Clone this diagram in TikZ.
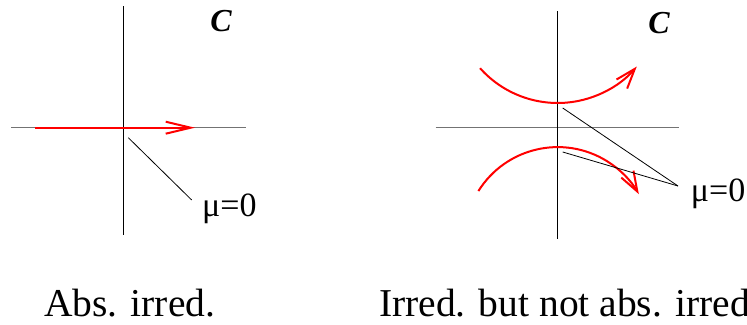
\documentclass[tikz,border=0pt]{standalone}
\usepackage{fontspec}
\setmainfont{Liberation Serif}
\usetikzlibrary{arrows.meta}
\begin{document}
\begin{tikzpicture}[x=1pt,y=-1pt,
  hax/.style={draw=black!55, line width=1.3pt},
  vax/.style={draw=black, line width=0.9pt},
  flow/.style={draw=red, line width=2pt},
  leader/.style={draw=black, line width=0.8pt},
  lbl/.style={inner sep=0pt, anchor=base west, font=\fontsize{34}{36}\selectfont},
  captext/.style={inner sep=0pt, anchor=base west, font=\fontsize{39.5}{41}\selectfont},
  cee/.style={inner sep=0pt, anchor=base, font=\fontsize{32}{34}\selectfont\bfseries\itshape}]
\path[use as bounding box] (0,0) rectangle (747,324);
\clip (0,0) rectangle (747,324);
% left panel
\coordinate (la1) at (11,127.7);
\coordinate (la2) at (245.7,127.7);
\coordinate (lv1) at (123.3,6);
\coordinate (lv2) at (123.3,235);
\draw[hax] (la1) -- (la2);
\draw[vax] (lv1) -- (lv2);
\coordinate (rs) at (35,127.7);
\coordinate (re) at (195,127.7);
\draw[flow, -{Straight Barb[length=25pt,width=12pt]}] (rs) -- (re);
\node[cee] (c1) at (221,31) {C};
\node[lbl] (mu1) at (202,216.7) {μ=0};
\coordinate (l1s) at (128.3,137.7);
\coordinate (l1e) at (191.7,200);
\draw[leader] (l1s) -- (l1e);
\node[captext] (t1) at (44,316.7) {Abs. irred.};
% right panel
\coordinate (ra1) at (435.7,127.7);
\coordinate (ra2) at (679,127.7);
\coordinate (rv1) at (557.7,11);
\coordinate (rv2) at (557.7,239);
\draw[hax] (ra1) -- (ra2);
\draw[vax] (rv1) -- (rv2);
\draw[flow, -{Straight Barb[length=20pt,width=14pt]}]
  ([shift={(138.3:104)}]557.7,-1) arc[start angle=138.3, end angle=40.5, radius=104];
\draw[flow, -{Straight Barb[length=20pt,width=14pt]}]
  ([shift={(212:93.5)}]557.7,240.6) arc[start angle=212, end angle=330.2, radius=93.5];
\node[cee] (c2) at (659,34) {C};
\node[lbl] (mu2) at (690.7,201.7) {μ=0};
\coordinate (r1s) at (562.7,108);
\coordinate (r2s) at (562.7,152);
\coordinate (rle) at (678,186);
\draw[leader] (r1s) -- (rle);
\draw[leader] (r2s) -- (rle);
\node[captext] (t2) at (379,316.7) {Irred. but not abs. irred.};
\end{tikzpicture}
\end{document}
